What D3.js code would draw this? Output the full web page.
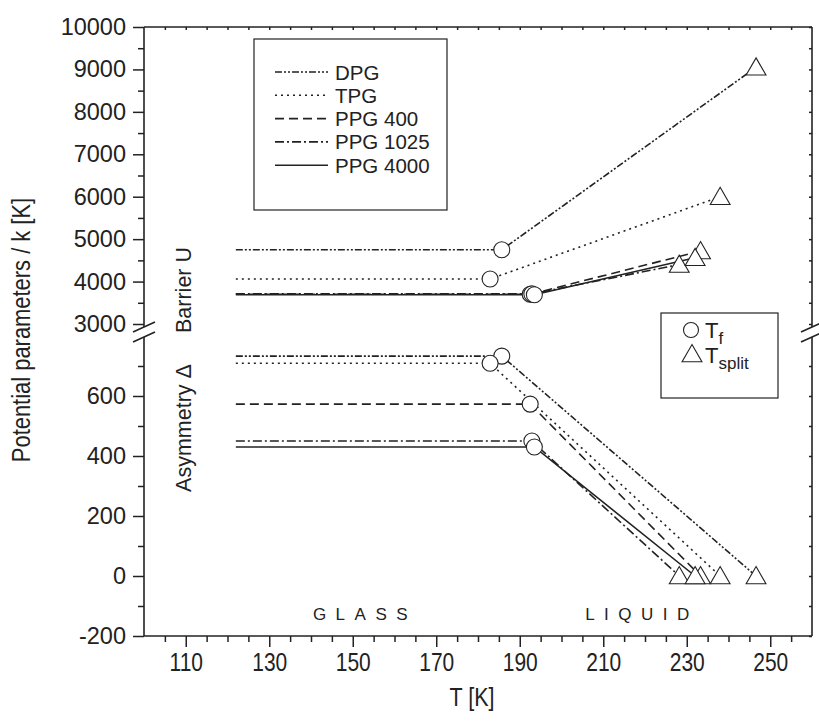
<!DOCTYPE html>
<html><head><meta charset="utf-8">
<script src="https://cdn.jsdelivr.net/npm/d3@7"></script>
<style>
body{margin:0;background:#fff;}
svg{display:block;font-family:"Liberation Sans",Arial,Helvetica,sans-serif;}
</style></head>
<body>
<svg id="chart" width="819" height="722"></svg>
<script>
// ---- data ----
const series = ["DPG", "TPG", "PPG 400", "PPG 1025", "PPG 4000"];
const dashes = ["7,2,2,2,2,2", "2,4", "9,5", "9,3,2,3", null];
const tGlassStart = 122;
const tF = [185.7, 182.9, 192.5, 192.9, 193.5];
const tSplit = [246.6, 238.0, 233.3, 228.2, 232.0];
const barrierGlass = [4750, 4060, 3700, 3710, 3690];
const barrierSplit = [9050, 6000, 4720, 4400, 4560];
const asymGlass = [733, 709, 573, 450, 430];
const asymSplit = [0, 0, 0, 0, 0];
const xTicks = [110, 130, 150, 170, 190, 210, 230, 250];
const yUpperTicks = [3000, 4000, 5000, 6000, 7000, 8000, 9000, 10000];
const yLowerTicks = [-200, 0, 200, 400, 600];

const svg = d3.select("#chart");
const col = "#222";
const L = 144, R = 812, T = 27, B = 636;
const brkU = 327, brkL = 337;

const x = d3.scaleLinear().domain([100, 260]).range([L, R]);
const yU = d3.scaleLinear().domain([3000, 10000]).range([324, T]);
const yL = d3.scaleLinear().domain([-200, 800]).range([B, 336]);
const fmt = v => String(v);

// ---- axes ----
const fs = 23.5;
// bottom axis
const gx = svg.append("g").attr("transform", `translate(0,${B})`);
gx.call(d3.axisBottom(x).tickValues(d3.range(105, 260, 5).filter(v => (v - 110) % 20 !== 0)).tickSize(6).tickFormat(""));
gx.select(".domain").remove();
const gx2 = svg.append("g").attr("transform", `translate(0,${B})`);
gx2.call(d3.axisBottom(x).tickValues(xTicks).tickSize(11).tickPadding(6).tickFormat(fmt));
gx2.select(".domain").remove();
gx2.selectAll("text").attr("font-size", 25).attr("fill", col)
   .attr("transform", "scale(0.84,1)");
svg.selectAll(".tick line").attr("stroke", col).attr("stroke-width", 1.5);

// top ticks (inward)
const gt = svg.append("g").attr("transform", `translate(0,${T})`);
gt.call(d3.axisBottom(x).tickValues(d3.range(105, 260, 5)).tickSize(3).tickFormat(""));
gt.select(".domain").remove();
gt.selectAll("line").attr("stroke", col).attr("stroke-width", 1.5);

function yAxis(scale, major, minor) {
  const g1 = svg.append("g").attr("transform", `translate(${L},0)`);
  g1.call(d3.axisLeft(scale).tickValues(minor).tickSize(6).tickFormat(""));
  g1.select(".domain").remove();
  const g2 = svg.append("g").attr("transform", `translate(${L},0)`);
  g2.call(d3.axisLeft(scale).tickValues(major).tickSize(11).tickPadding(7).tickFormat(fmt));
  g2.select(".domain").remove();
  g2.selectAll("text").attr("font-size", fs).attr("fill", col);
  [g1, g2].forEach(g => g.selectAll("line").attr("stroke", col).attr("stroke-width", 1.5));
  const g3 = svg.append("g").attr("transform", `translate(${R},0)`);
  g3.call(d3.axisLeft(scale).tickValues(major.concat(minor)).tickSize(3).tickFormat(""));
  g3.select(".domain").remove();
  g3.selectAll("line").attr("stroke", col).attr("stroke-width", 1.5);
}
yAxis(yU, yUpperTicks, d3.range(3500, 10000, 1000));
yAxis(yL, yLowerTicks, [-100, 100, 300, 500, 700]);

// frame lines with breaks
const frame = svg.append("g").attr("stroke", col).attr("stroke-width", 1.6).attr("fill", "none");
frame.append("line").attr("x1", L).attr("x2", R).attr("y1", T).attr("y2", T);
frame.append("line").attr("x1", L).attr("x2", R).attr("y1", B).attr("y2", B);
[L, R].forEach(xx => {
  frame.append("line").attr("x1", xx).attr("x2", xx).attr("y1", T).attr("y2", brkU);
  frame.append("line").attr("x1", xx).attr("x2", xx).attr("y1", brkL).attr("y2", B);
  [brkU, brkL].forEach(yy => {
    frame.append("line").attr("x1", xx - 11).attr("y1", yy + 5).attr("x2", xx + 11).attr("y2", yy - 5);
  });
});

// ---- series lines ----
const line = d3.line();
const plot = svg.append("g");
series.forEach((s, i) => {
  const up = [[x(tGlassStart), yU(barrierGlass[i])], [x(tF[i]), yU(barrierGlass[i])], [x(tSplit[i]), yU(barrierSplit[i])]];
  const lo = [[x(tGlassStart), yL(asymGlass[i])], [x(tF[i]), yL(asymGlass[i])], [x(tSplit[i]), yL(asymSplit[i])]];
  [up, lo].forEach(pts => {
    plot.append("path").attr("d", line(pts)).attr("fill", "none").attr("stroke", col)
      .attr("stroke-width", 1.6).attr("stroke-dasharray", dashes[i]);
  });
});
// markers
const tri = d3.symbol(d3.symbolTriangle, 170);
series.forEach((s, i) => {
  [[tSplit[i], yU(barrierSplit[i])], [tSplit[i], yL(asymSplit[i])]].forEach(([t, yy]) => {
    plot.append("path").attr("d", tri()).attr("transform", `translate(${x(t)},${yy + 2})`)
      .attr("fill", "#fff").attr("stroke", col).attr("stroke-width", 1.1);
  });
});
series.forEach((s, i) => {
  [yU(barrierGlass[i]), yL(asymGlass[i])].forEach(yy => {
    plot.append("circle").attr("cx", x(tF[i])).attr("cy", yy).attr("r", 8)
      .attr("fill", "#fff").attr("stroke", col).attr("stroke-width", 1.1);
  });
});

// ---- legend 1 ----
const lg = svg.append("g");
lg.append("rect").attr("x", 254).attr("y", 39).attr("width", 193).attr("height", 171)
  .attr("fill", "#fff").attr("stroke", col).attr("stroke-width", 1.2);
series.forEach((s, i) => {
  const yy = 72 + i * 23.3;
  lg.append("line").attr("x1", 275).attr("x2", 328).attr("y1", yy).attr("y2", yy)
    .attr("stroke", col).attr("stroke-width", 1.6).attr("stroke-dasharray", dashes[i]);
  lg.append("text").attr("x", 335).attr("y", yy + 7.5).attr("font-size", 20.5).attr("fill", col).text(s);
});

// ---- legend 2 ----
const lg2 = svg.append("g");
lg2.append("rect").attr("x", 661).attr("y", 313).attr("width", 117).attr("height", 85)
  .attr("fill", "#fff").attr("stroke", col).attr("stroke-width", 1.2);
lg2.append("circle").attr("cx", 691).attr("cy", 330).attr("r", 7.5).attr("fill", "#fff").attr("stroke", col).attr("stroke-width", 1.1);
lg2.append("path").attr("d", tri()).attr("transform", "translate(692,356)").attr("fill", "#fff").attr("stroke", col).attr("stroke-width", 1.1);
const t1 = lg2.append("text").attr("x", 705).attr("y", 338).attr("font-size", 22).attr("fill", col);
t1.append("tspan").text("T");
t1.append("tspan").attr("dy", 6).attr("font-size", 17).text("f");
const t2 = lg2.append("text").attr("x", 705).attr("y", 363).attr("font-size", 22).attr("fill", col);
t2.append("tspan").text("T");
t2.append("tspan").attr("dy", 6).attr("font-size", 17).text("split");

// ---- annotations ----
svg.append("text").attr("transform", "translate(191,290) rotate(-90)").attr("text-anchor", "middle")
  .attr("font-size", 21.5).attr("fill", col).text("Barrier U");
svg.append("text").attr("transform", "translate(191,428) rotate(-90)").attr("text-anchor", "middle")
  .attr("font-size", 21.5).attr("fill", col).text("Asymmetry \u0394");
svg.append("text").attr("x", 365).attr("y", 620).attr("text-anchor", "middle").attr("font-size", 17)
  .attr("letter-spacing", 9.5).attr("fill", col).text("GLASS");
svg.append("text").attr("x", 642).attr("y", 620).attr("text-anchor", "middle").attr("font-size", 17)
  .attr("letter-spacing", 9.5).attr("fill", col).text("LIQUID");

// axis titles
svg.append("text").attr("transform", "translate(472,706) scale(0.86,1)").attr("text-anchor", "middle")
  .attr("font-size", 25).attr("fill", col).text("T [K]");
svg.append("text").attr("transform", "translate(30,330) rotate(-90) scale(0.86,1)").attr("text-anchor", "middle")
  .attr("font-size", 25.5).attr("fill", col).text("Potential parameters / k  [K]");
</script>
</body></html>
